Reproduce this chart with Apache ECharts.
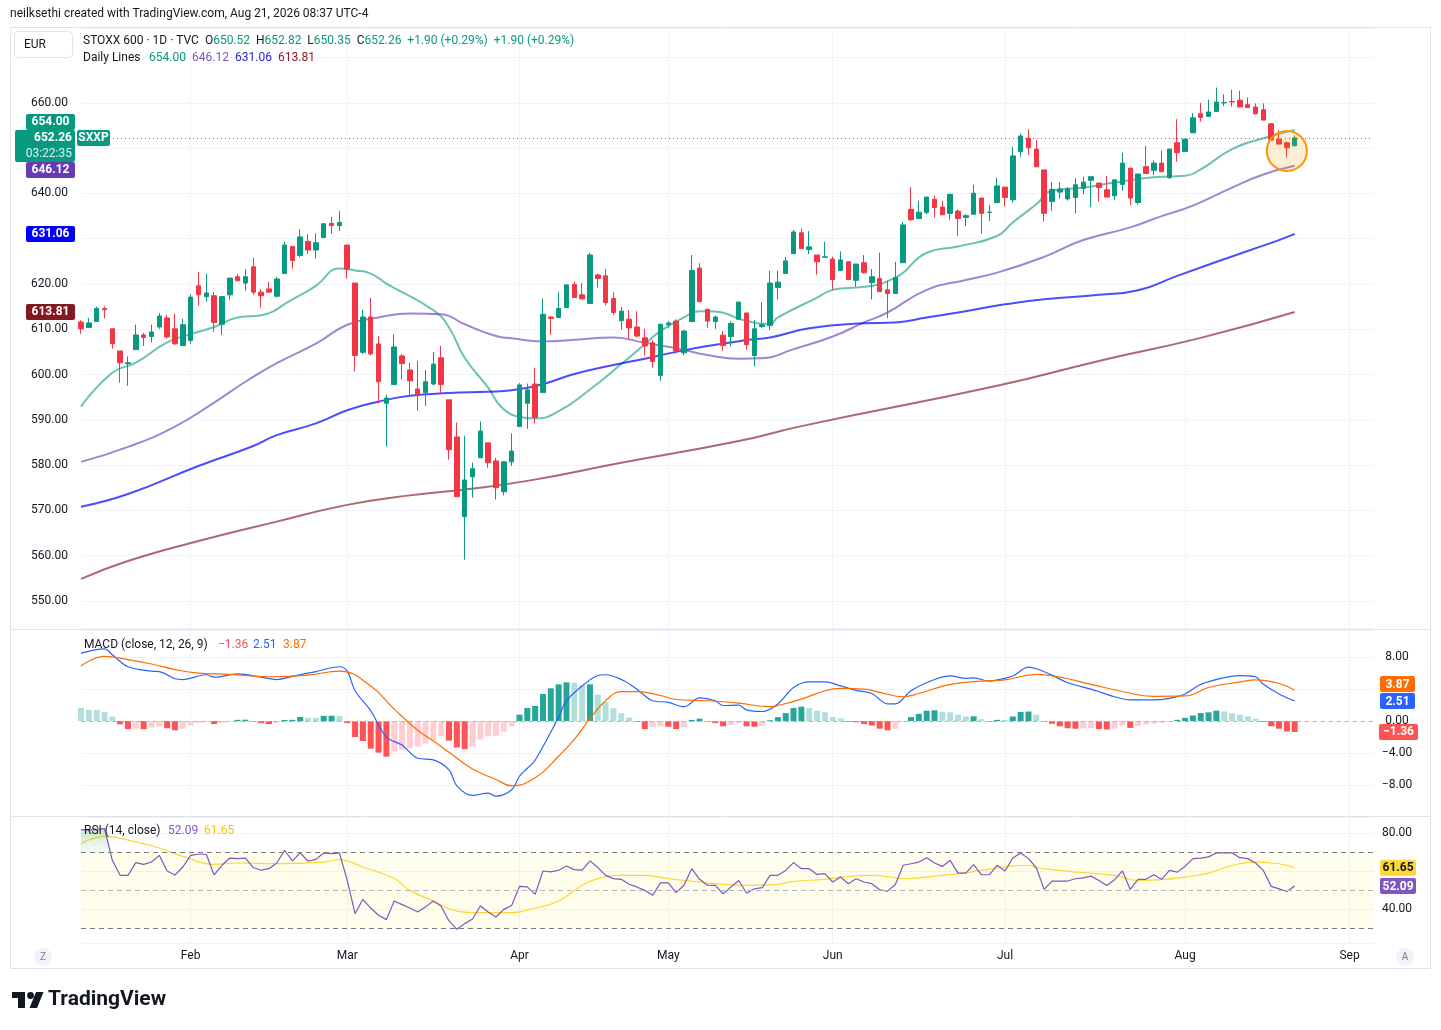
<!DOCTYPE html>
<html>
<head>
<meta charset="utf-8">
<title>STOXX 600 · 1D · TVC</title>
<script src="https://cdn.jsdelivr.net/npm/echarts@6.0.0/dist/echarts.min.js"></script>
<style>
  html, body { margin: 0; padding: 0; background: #fff; }
  #chart { width: 1441px; height: 1030px; }
</style>
</head>
<body>
<div id="chart"></div>
<script>
// ---- daily candles, Jan 13 -> Aug 21 2026 (bar index 0..155) ----
const open = [
  611.6, 610.4, 611.7, 614.6, 610.1, 605.2, 602.4, 605.5, 608.75, 608.4,
  610.5, 612.5, 610.1, 606.4, 607.5, 619.6, 617.2, 617.4, 611.1, 617.6,
  621.6, 620.2, 623.8, 618.2, 618.9, 617.3, 622.3, 628.3, 626.3, 629.4,
  627.5, 630.25, 633.4, 632.9, 628.6, 620.2, 604.9, 612.7, 606.75, 593.65,
  597.8, 604.1, 601.0, 596.8, 596.0, 597.9, 603.7, 594.4, 586.2, 568.6,
  577.4, 581.6, 584.9, 580.9, 574.1, 580.7, 588.5, 593.65, 597.9, 596.0,
  612.7, 612.6, 614.8, 619.9, 617.6, 615.7, 622.0, 621.8, 616.8, 611.9,
  612.2, 610.5, 608.1, 607.0, 599.8, 611.0, 611.8, 604.8, 611.7, 623.5,
  614.4, 611.7, 608.7, 608.4, 612.2, 613.6, 604.2, 610.6, 610.8, 619.2,
  622.3, 626.7, 631.3, 627.6, 626.4, 625.9, 625.5, 623.0, 624.9, 620.8,
  624.7, 620.3, 621.2, 618.7, 617.9, 624.7, 636.5, 634.45, 635.8, 638.7,
  637.0, 635.6, 636.1, 634.7, 635.4, 639.0, 635.8, 637.98, 641.4, 638.6,
  649.25, 652.2, 649.8, 645.2, 638.2, 640.3, 638.8, 639.1, 641.1, 642.9,
  642.3, 640.8, 639.5, 642.0, 645.6, 638.0, 645.9, 645.1, 646.7, 643.5,
  651.2, 649.25, 653.4, 657.6, 657.0, 658.1, 660.0, 660.3, 660.6, 659.6,
  659.1, 658.5, 655.4, 652.0, 651.2, 650.52
];
const high = [
  612.0, 612.5, 615.0, 615.0, 610.1, 605.2, 604.0, 611.0, 609.2, 611.0,
  613.6, 613.2, 613.4, 612.3, 617.7, 622.7, 622.3, 618.2, 617.2, 621.3,
  622.2, 623.3, 625.8, 618.9, 620.5, 621.6, 629.3, 628.3, 632.1, 631.0,
  631.2, 633.4, 634.8, 636.1, 628.6, 620.2, 614.3, 616.9, 608.5, 595.5,
  608.9, 604.55, 602.6, 603.0, 601.0, 605.0, 606.3, 594.4, 589.4, 586.4,
  580.5, 589.6, 584.9, 581.6, 580.9, 587.0, 598.1, 598.0, 601.5, 616.8,
  612.9, 618.2, 619.8, 620.5, 620.2, 626.9, 622.3, 623.3, 618.2, 614.9,
  614.2, 614.0, 610.1, 607.6, 611.1, 611.8, 612.2, 609.9, 626.4, 624.6,
  614.4, 613.0, 609.6, 611.8, 616.0, 613.6, 612.1, 616.0, 622.9, 622.9,
  626.0, 631.9, 632.3, 631.7, 626.4, 629.3, 626.0, 627.2, 624.9, 624.4,
  626.4, 623.3, 626.9, 620.7, 624.9, 633.7, 641.4, 638.35, 639.2, 639.5,
  638.35, 639.8, 636.5, 635.4, 641.9, 639.0, 637.5, 643.5, 641.4, 650.3,
  653.2, 654.2, 651.8, 645.2, 642.5, 642.5, 641.4, 643.4, 643.7, 643.7,
  642.3, 643.9, 643.0, 649.0, 645.6, 644.3, 650.5, 647.3, 649.5, 649.8,
  656.4, 652.0, 657.7, 660.0, 660.7, 663.4, 661.9, 662.9, 662.7, 661.2,
  659.9, 659.9, 655.4, 654.0, 651.5, 652.82
];
const low = [
  609.0, 610.4, 611.7, 612.4, 605.7, 598.2, 597.5, 605.5, 606.3, 607.1,
  610.1, 607.9, 606.5, 606.4, 606.8, 615.2, 616.1, 609.4, 608.75, 616.5,
  620.7, 618.5, 617.6, 614.8, 618.1, 617.0, 622.3, 623.4, 625.9, 626.6,
  625.6, 630.25, 631.1, 631.7, 621.2, 600.7, 604.5, 604.2, 593.65, 584.1,
  597.8, 598.9, 595.1, 592.0, 593.1, 597.6, 595.9, 581.2, 573.0, 559.1,
  572.8, 581.6, 579.4, 572.4, 573.3, 579.8, 588.5, 588.0, 589.2, 596.0,
  608.8, 612.6, 614.8, 617.0, 616.7, 615.7, 619.2, 615.3, 613.2, 609.9,
  607.9, 608.2, 604.2, 601.5, 598.6, 610.2, 604.6, 604.3, 611.7, 616.1,
  610.3, 610.1, 605.2, 606.2, 612.2, 605.5, 601.8, 610.3, 609.8, 616.6,
  622.3, 626.7, 627.8, 626.6, 622.1, 625.9, 618.8, 622.8, 621.0, 619.4,
  622.3, 616.6, 618.3, 612.4, 617.9, 624.7, 633.9, 634.45, 635.4, 634.7,
  635.2, 634.1, 630.6, 632.8, 635.4, 631.1, 633.9, 637.98, 637.1, 638.0,
  648.1, 648.5, 645.9, 633.8, 636.1, 638.9, 638.4, 635.6, 639.8, 637.0,
  638.2, 639.2, 638.6, 640.6, 637.4, 637.5, 644.4, 644.1, 644.8, 643.2,
  647.0, 649.25, 653.4, 655.9, 657.0, 658.1, 659.3, 659.2, 659.1, 659.0,
  657.5, 656.2, 651.8, 650.9, 647.9, 650.35
];
const close = [
  610.1, 611.4, 614.6, 614.3, 606.8, 602.6, 602.6, 608.75, 608.2, 609.4,
  612.9, 608.3, 606.8, 611.0, 617.1, 617.6, 618.0, 611.5, 617.2, 621.3,
  620.7, 621.6, 618.2, 617.4, 618.2, 621.1, 628.6, 625.2, 630.4, 627.5,
  629.1, 633.3, 632.9, 633.6, 623.3, 604.2, 612.7, 604.55, 598.4, 594.8,
  606.1, 602.4, 598.6, 595.6, 598.4, 602.3, 597.8, 583.4, 573.0, 576.7,
  579.2, 587.5, 580.5, 575.0, 580.7, 583.1, 597.7, 596.6, 590.5, 613.3,
  612.4, 614.6, 619.8, 617.0, 616.7, 626.4, 621.2, 615.9, 613.7, 614.0,
  610.3, 608.5, 606.3, 602.9, 611.1, 611.4, 605.2, 609.6, 623.0, 616.1,
  611.8, 612.7, 606.4, 611.3, 616.0, 606.6, 610.1, 611.0, 620.2, 620.4,
  625.1, 631.5, 627.8, 628.2, 624.9, 626.0, 621.0, 625.3, 621.0, 624.4,
  622.5, 621.6, 618.3, 617.9, 621.4, 633.05, 634.2, 635.85, 639.2, 636.9,
  635.3, 639.8, 634.45, 635.1, 640.05, 635.6, 635.9, 641.67, 639.1, 648.3,
  652.7, 650.1, 645.9, 635.6, 640.9, 641.0, 641.0, 641.9, 642.5, 643.7,
  641.3, 639.2, 643.0, 646.7, 639.0, 644.3, 644.4, 646.7, 644.8, 649.8,
  649.0, 652.0, 656.7, 656.8, 658.0, 660.2, 660.1, 660.2, 659.1, 659.0,
  657.6, 656.2, 651.8, 650.9, 650.1, 652.26
];

// ---- daily moving-average lines, read as [bar, value] ----
const ma20Pts = [[0,592.9],[4,600.4],[7,602.6],[11,607.1],[14,608.9],[17,610.5],[20,612.6],[23,613.1],[27,616.6],[30,619.6],[33,623.4],[35,623.0],[37,622.3],[39,620.1],[45,614.2],[47,610.4],[49,603.7],[52,597.1],[54,592.3],[57,590.4],[58,590.3],[61,591.9],[65,596.7],[69,602.3],[72,606.7],[74,609.6],[77,612.6],[79,614.0],[81,613.9],[85,611.8],[88,611.2],[89,612.6],[93,616.1],[97,619.0],[99,619.2],[104,621.4],[108,626.9],[112,628.3],[117,630.6],[119,633.6],[122,637.6],[124,640.6],[128,641.3],[132,642.4],[137,643.6],[141,643.9],[143,645.3],[147,649.8],[151,652.2],[155,654.00]];
const ma50Pts = [[0,580.7],[6,584.0],[12,588.5],[17,593.8],[21,598.4],[25,602.5],[30,606.8],[34,611.0],[38,612.6],[42,613.5],[46,613.3],[49,611.1],[53,608.5],[55,608.0],[59,607.3],[63,607.7],[68,608.2],[72,607.0],[76,605.8],[80,604.3],[84,603.5],[87,603.6],[91,605.6],[96,608.4],[100,611.5],[103,613.7],[108,618.7],[113,620.9],[117,622.5],[123,626.0],[128,629.7],[134,632.5],[138,635.0],[142,637.3],[147,641.3],[151,644.2],[155,646.12]];
const ma100Pts = [[0,570.8],[6,573.6],[15,579.8],[22,584.2],[25,586.6],[30,589.2],[34,592.1],[38,594.0],[42,595.3],[47,595.9],[52,596.2],[55,596.5],[59,597.9],[63,600.1],[68,602.1],[72,603.5],[76,605.0],[80,606.3],[85,607.6],[88,608.2],[93,610.2],[100,611.3],[104,611.5],[108,612.6],[112,613.7],[118,615.5],[123,616.6],[130,617.6],[135,618.6],[140,621.8],[149,627.3],[153,629.7],[155,631.06]];
const ma200Pts = [[0,554.85],[6,558.8],[15,563.2],[25,567.5],[34,571.2],[42,573.3],[49,574.6],[57,576.5],[69,580.5],[84,585.3],[92,588.6],[117,597.5],[130,603.0],[143,608.1],[155,613.81]];

// ---- MACD (12, 26, 9) ----
const macdHist = [
  1.65, 1.4, 1.38, 1.15, 0.58, -0.4, -1.0, -0.95, -1.0, -0.8,
  -0.65, -0.9, -1.15, -0.95, -0.55, -0.25, -0.12, -0.37, -0.25, -0.05,
  0.16, 0.18, -0.08, -0.25, -0.37, -0.25, 0.14, 0.16, 0.53, 0.41,
  0.40, 0.66, 0.68, 0.66, -0.25, -2.0, -2.5, -3.45, -3.95, -4.45,
  -3.8, -3.6, -3.4, -3.2, -2.8, -2.4, -1.85, -2.45, -3.3, -3.5,
  -3.2, -2.3, -1.9, -1.85, -1.3, -0.65, 0.8, 1.65, 1.9, 3.4,
  4.1, 4.6, 4.85, 4.8, 4.5, 4.6, 3.3, 2.4, 1.6, 1.0,
  0.45, -0.1, -1.0, -0.75, -0.65, -0.7, -1.0, -0.8, 0.15, 0.3,
  -0.1, -0.25, -0.65, -0.45, -0.25, -0.65, -0.7, -0.6, 0.1, 0.5,
  1.0, 1.65, 1.8, 1.65, 1.3, 1.1, 0.5, 0.35, -0.1, -0.15,
  -0.37, -0.55, -0.95, -1.15, -0.95, -0.12, 0.5, 0.9, 1.3, 1.35,
  1.15, 1.1, 0.8, 0.58, 0.6, 0.25, -0.08, 0.16, 0.14, 0.58,
  1.15, 1.2, 0.8, -0.1, -0.33, -0.65, -0.9, -0.95, -0.9, -0.88,
  -1.0, -1.05, -0.95, -0.55, -0.85, -0.6, -0.4, -0.33, -0.25, -0.1,
  0.16, 0.4, 0.7, 1.0, 1.1, 1.3, 1.2, 1.0, 0.8, 0.6,
  0.3, -0.1, -0.65, -0.95, -1.3, -1.36
];
const macdPts = [[0,8.5],[3,9.05],[4,8.3],[6,6.8],[9,6.25],[10,6.2],[12,5.3],[13,5.2],[16,5.8],[17,5.5],[20,5.9],[23,5.5],[25,5.2],[27,5.6],[30,6.2],[33,6.8],[34,6.25],[35,3.8],[37,1.3],[39,-2.0],[41,-3.0],[43,-4.65],[45,-4.85],[47,-6.1],[48,-8.1],[50,-9.3],[52,-9.0],[53,-9.4],[55,-8.6],[56,-6.9],[57,-5.9],[58,-4.9],[61,0.5],[62,2.55],[64,4.4],[66,5.7],[67,5.8],[69,5.2],[71,4.0],[73,2.55],[75,2.35],[77,1.8],[79,2.9],[81,2.55],[82,1.95],[84,2.0],[85,1.4],[87,1.2],[89,2.15],[91,4.2],[93,4.9],[95,4.9],[97,4.4],[99,3.85],[101,3.45],[103,2.15],[104,2.15],[106,3.8],[109,5.2],[111,5.65],[113,5.35],[114,5.4],[116,5.0],[117,5.15],[119,5.65],[121,6.75],[122,6.55],[124,5.75],[126,4.8],[129,4.0],[132,3.05],[134,2.65],[137,2.65],[139,2.85],[141,3.4],[143,4.6],[146,5.45],[148,5.7],[150,5.55],[151,4.6],[153,3.4],[155,2.51]];
const signalPts = [[0,6.9],[3,8.1],[6,7.7],[9,7.15],[12,6.45],[15,6.0],[19,5.85],[24,5.55],[29,5.75],[33,6.25],[37,4.4],[40,1.5],[43,-1.15],[45,-2.5],[47,-3.9],[50,-6.0],[53,-7.3],[55,-8.1],[58,-7.1],[61,-4.4],[63,-2.3],[65,0.3],[67,2.55],[69,3.7],[71,3.7],[74,3.2],[76,2.7],[80,2.55],[84,2.25],[88,1.8],[89,1.95],[92,2.75],[95,3.8],[97,4.1],[100,4.0],[102,3.6],[105,3.05],[107,3.45],[111,4.6],[115,5.0],[118,5.15],[122,5.85],[125,5.5],[129,4.6],[133,3.7],[137,3.1],[141,3.15],[144,4.2],[148,4.9],[150,5.15],[153,4.7],[155,3.87]];

// ---- RSI (14) and its moving average ----
const rsi = [
  81.8, 81.5, 82.0, 82.3, 65.6, 57.7, 57.7, 64.4, 63.5, 64.7,
  68.2, 60.0, 57.9, 62.1, 68.2, 68.8, 68.8, 57.9, 63.0, 66.8,
  66.5, 66.8, 61.8, 60.4, 61.2, 64.2, 70.9, 65.3, 69.5, 65.1,
  66.1, 69.5, 69.1, 69.5, 55.1, 37.5, 45.1, 40.5, 36.7, 34.4,
  44.2, 42.3, 40.5, 38.4, 41.1, 44.2, 41.4, 33.7, 29.3, 32.3,
  34.7, 41.6, 38.4, 35.8, 39.8, 41.8, 51.9, 51.6, 47.7, 60.0,
  59.5, 60.4, 62.6, 60.7, 60.4, 65.3, 61.8, 57.7, 56.0, 55.6,
  53.0, 51.6, 49.8, 47.2, 53.7, 53.7, 48.6, 52.5, 61.2, 55.6,
  52.5, 52.4, 48.0, 51.5, 55.0, 48.3, 50.6, 51.2, 57.7, 57.7,
  60.3, 64.4, 61.2, 61.2, 58.2, 58.6, 54.2, 56.8, 53.3, 55.9,
  54.2, 53.3, 50.1, 49.4, 52.9, 63.0, 63.8, 64.7, 67.0, 64.2,
  62.4, 65.6, 58.9, 58.9, 63.3, 58.0, 58.0, 63.0, 60.0, 66.8,
  69.5, 66.5, 61.7, 50.3, 54.7, 54.7, 54.7, 55.9, 56.4, 57.3,
  55.0, 52.4, 55.4, 60.0, 50.3, 55.6, 55.6, 58.0, 55.6, 60.3,
  59.4, 62.4, 66.5, 66.8, 67.4, 69.5, 69.5, 69.5, 67.0, 66.5,
  64.2, 60.3, 51.9, 50.6, 49.2, 52.09
];
const rsiMaPts = [[0,74.4],[3,78.2],[7,75.3],[10,72.1],[13,67.7],[17,63.5],[20,64.2],[25,63.9],[31,64.7],[33,66.0],[36,62.1],[40,56.0],[42,49.8],[45,44.2],[48,38.9],[51,38.1],[55,38.1],[58,40.5],[61,44.2],[64,52.5],[66,56.0],[69,57.7],[72,57.7],[75,56.0],[78,54.6],[82,52.9],[86,52.4],[89,52.9],[91,54.5],[95,55.6],[97,56.8],[101,57.7],[103,57.1],[105,55.9],[107,56.4],[112,58.6],[115,60.3],[118,62.1],[121,63.0],[122,61.7],[125,60.3],[128,59.1],[132,57.7],[135,55.0],[138,55.4],[141,56.8],[144,58.9],[146,61.7],[148,63.8],[150,64.7],[153,63.8],[155,61.65]];

// ---- time axis: bar slots (incl. empty future space) and month ticks ----
const slotCount = 166;
const monthTicks = [14, 34, 56, 75, 96, 118, 141, 162];
const monthNames = ['Feb', 'Mar', 'Apr', 'May', 'Jun', 'Jul', 'Aug', 'Sep'];

const FONT = 'Roboto, "Liberation Sans", sans-serif';
const TXT = '#131722';
const GRID_C = '#f0f3fa';
const UP = '#089981', DOWN = '#F23645';

const cats = Array.from({ length: slotCount }, (_, i) => String(i));
const isMonth = (i) => monthTicks.indexOf(i) >= 0;
const fmt = (v) => (v < 0 ? '\u2212' + Math.abs(v).toFixed(2) : v.toFixed(2));

function xAxis(gridIndex, labels) {
  return {
    type: 'category', gridIndex, data: cats, boundaryGap: false,
    axisLine: { show: false }, axisTick: { show: false },
    splitLine: { show: true, interval: (i) => isMonth(i), lineStyle: { color: GRID_C } },
    axisLabel: labels ? {
      show: true, interval: (i) => isMonth(i), margin: 7,
      formatter: (v) => monthNames[monthTicks.indexOf(Number(v))],
      color: TXT, fontSize: 12, fontFamily: FONT
    } : { show: false }
  };
}

function maLine(name, pts, color) {
  return {
    name, type: 'line', xAxisIndex: 0, yAxisIndex: 0, data: pts,
    showSymbol: false, smooth: 0.5, silent: true,
    lineStyle: { color, width: 2 }, z: 3
  };
}

const candles = open.map((o, i) => [o, close[i], low[i], high[i]]);
const histData = macdHist.map((v, i) => {
  const prev = i > 0 ? macdHist[i - 1] : Infinity;
  let c;
  if (v >= 0) c = v > prev ? '#26A69A' : '#B2DFDB';
  else c = v < prev ? '#FF5252' : '#FFCDD2';
  return { value: v, itemStyle: { color: c } };
});
const overbought = rsi.slice(0, 5).map((v, i) => [i, Math.max(v, 70)]);

const option = {
  animation: false,
  backgroundColor: '#ffffff',
  textStyle: { fontFamily: FONT },
  grid: [
    { left: 81, width: 1292, top: 28, height: 600 },
    { left: 81, width: 1292, top: 630, height: 187 },
    { left: 81, width: 1292, top: 817, height: 126 }
  ],
  xAxis: [xAxis(0, false), xAxis(1, false), xAxis(2, true)],
  yAxis: [
    {
      type: 'value', gridIndex: 0, position: 'left', min: 544.0, max: 676.55, splitNumber: 13,
      axisLine: { show: false }, axisTick: { show: false },
      axisLabel: { formatter: (v) => (v > 665 ? '' : v.toFixed(2)), color: TXT, fontSize: 12, fontFamily: FONT, margin: 13, showMinLabel: false, showMaxLabel: false },
      splitLine: { lineStyle: { color: GRID_C } }
    },
    {
      type: 'value', gridIndex: 1, position: 'right', min: -12, max: 11.4, interval: 4,
      axisLine: { show: false }, axisTick: { show: false },
      axisLabel: { formatter: fmt, color: TXT, fontSize: 12, fontFamily: FONT, margin: 24, align: 'center', showMinLabel: false, showMaxLabel: false },
      splitLine: { lineStyle: { color: GRID_C } }
    },
    {
      type: 'value', gridIndex: 2, position: 'right', min: 22.1, max: 88.4, splitNumber: 3,
      axisLine: { show: false }, axisTick: { show: false },
      axisLabel: { formatter: fmt, color: TXT, fontSize: 12, fontFamily: FONT, margin: 24, align: 'center', showMinLabel: false, showMaxLabel: false },
      splitLine: { lineStyle: { color: GRID_C } }
    }
  ],
  series: [
    {
      name: 'STOXX 600', type: 'candlestick', xAxisIndex: 0, yAxisIndex: 0, data: candles,
      barWidth: 5, clip: false, z: 4,
      itemStyle: { color: UP, color0: DOWN, borderColor: UP, borderColor0: DOWN, borderWidth: 1 },
      markLine: {
        silent: true, symbol: ['none', 'none'], label: { show: false },
        lineStyle: { color: UP, type: [1, 3], width: 1 },
        data: [{ yAxis: close[close.length - 1] }]
      }
    },
    maLine('MA 20', ma20Pts, 'rgba(8,153,129,0.6)'),
    maLine('MA 50', ma50Pts, 'rgba(103,58,183,0.62)'),
    maLine('MA 100', ma100Pts, 'rgba(0,0,255,0.7)'),
    maLine('MA 200', ma200Pts, 'rgba(128,25,34,0.65)'),
    {
      name: 'Histogram', type: 'bar', xAxisIndex: 1, yAxisIndex: 1, data: histData, barWidth: 6,
      markLine: {
        silent: true, symbol: ['none', 'none'], label: { show: false },
        lineStyle: { color: '#b2b5be', type: [4, 4], width: 1 },
        data: [{ yAxis: 0 }]
      }
    },
    {
      name: 'MACD', type: 'line', xAxisIndex: 1, yAxisIndex: 1, data: macdPts,
      showSymbol: false, smooth: 0.35, lineStyle: { color: '#2962FF', width: 1.2 }, z: 3
    },
    {
      name: 'Signal', type: 'line', xAxisIndex: 1, yAxisIndex: 1, data: signalPts,
      showSymbol: false, smooth: 0.45, lineStyle: { color: '#FF6D00', width: 1.2 }, z: 3
    },
    {
      name: 'Overbought', type: 'line', xAxisIndex: 2, yAxisIndex: 2, data: overbought,
      showSymbol: false, silent: true, lineStyle: { opacity: 0 },
      areaStyle: {
        origin: 70,
        color: new echarts.graphic.LinearGradient(0, 0, 0, 1, [
          { offset: 0, color: 'rgba(76,175,80,0.45)' },
          { offset: 1, color: 'rgba(76,175,80,0.05)' }
        ])
      }
    },
    {
      name: 'RSI', type: 'line', xAxisIndex: 2, yAxisIndex: 2, data: rsi,
      showSymbol: false, lineStyle: { color: '#7E57C2', width: 1.2 }, z: 3,
      markArea: {
        silent: true, itemStyle: { color: 'rgba(255,235,59,0.10)' },
        data: [[{ yAxis: 30 }, { yAxis: 70 }]]
      },
      markLine: {
        silent: true, symbol: ['none', 'none'], label: { show: false },
        lineStyle: { type: [5, 4], width: 1 },
        data: [
          { yAxis: 70, lineStyle: { color: '#787B86' } },
          { yAxis: 50, lineStyle: { color: '#b2b5be' } },
          { yAxis: 30, lineStyle: { color: '#787B86' } }
        ]
      }
    },
    {
      name: 'RSI MA', type: 'line', xAxisIndex: 2, yAxisIndex: 2, data: rsiMaPts,
      showSymbol: false, smooth: 0.45, lineStyle: { color: '#FDD835', width: 1.2 }, z: 2
    }
  ]
};

const chart = echarts.init(document.getElementById('chart'));
chart.setOption(option);

// ---- overlay: frame, legends, price badges, annotation ----
const ZB = 100;
function text(x, y, str, fill, size, weight, align) {
  return {
    type: 'text', x, y, z: ZB, silent: true,
    style: { text: str, fill, font: (weight || 'normal') + ' ' + (size || 12) + 'px ' + FONT, align: align || 'left', verticalAlign: 'middle' }
  };
}
function line(x1, y1, x2, y2, stroke) {
  return { type: 'line', z: ZB, silent: true, shape: { x1, y1, x2, y2 }, style: { stroke, lineWidth: 1 } };
}
function badge(x, top, w, label, bg, fg) {
  return [
    { type: 'rect', z: ZB + 1, silent: true, shape: { x, y: top, width: w, height: 16, r: 2 }, style: { fill: bg } },
    { type: 'text', z: ZB + 2, silent: true, x: x + w / 2, y: top + 8.5, style: { text: label, fill: fg, font: 'bold 12px ' + FONT, align: 'center', verticalAlign: 'middle' } }
  ];
}
const last = (pts) => pts[pts.length - 1][1];
const py = (axis, v) => chart.convertToPixel({ yAxisIndex: axis }, v);

const lastClose = close[close.length - 1];
const lastHist = macdHist[macdHist.length - 1];
const lastRsi = rsi[rsi.length - 1];

const g = [];
// frame and pane separators
g.push({ type: 'rect', z: ZB, silent: true, shape: { x: 10.5, y: 27.5, width: 1420, height: 941 }, style: { fill: 'none', stroke: '#e0e3eb' } });
g.push(line(10, 629.5, 1431, 629.5, '#e0e3eb'));
g.push(line(10, 816.5, 1431, 816.5, '#e0e3eb'));

// header
g.push(text(10, 14, 'neilksethi created with TradingView.com, Aug 21, 2026 08:37 UTC-4', TXT, 12));
g.push({ type: 'rect', z: ZB, silent: true, shape: { x: 14.5, y: 31.5, width: 58, height: 26, r: 4 }, style: { fill: '#fff', stroke: '#e0e3eb' } });
g.push(text(24, 45, 'EUR', TXT, 12));

// legend row 1 (one rich string so the pieces never overlap)
const quote = [['O', '650.52'], ['H', '652.82'], ['L', '650.35'], ['C', lastClose.toFixed(2)]];
const row1 = 'STOXX 600 \u00b7 1D \u00b7 TVC  ' +
  quote.map(([k, v]) => '{k|' + k + '}{v|' + v + '}').join('  ') +
  '  {v|+1.90 (+0.29%)}  {v|+1.90 (+0.29%)}';
g.push({
  type: 'text', x: 83, y: 41, z: ZB, silent: true,
  style: {
    text: row1, fill: TXT, font: '12px ' + FONT, verticalAlign: 'middle',
    rich: { k: { fill: TXT, font: '12px ' + FONT }, v: { fill: UP, font: '12px ' + FONT } }
  }
});

// legend row 2
g.push(text(83, 58, 'Daily Lines', TXT, 12));
g.push(text(149, 58, last(ma20Pts).toFixed(2), UP, 12));
g.push(text(192, 58, last(ma50Pts).toFixed(2), '#7E57C2', 12));
g.push(text(235, 58, last(ma100Pts).toFixed(2), '#2525d8', 12));
g.push(text(278, 58, last(ma200Pts).toFixed(2), '#8E1B24', 12));

// MACD legend
g.push(text(84, 645, 'MACD (close, 12, 26, 9)', TXT, 12));
g.push(text(218, 645, fmt(lastHist), '#FF5252', 12));
g.push(text(253, 645, last(macdPts).toFixed(2), '#2962FF', 12));
g.push(text(283, 645, last(signalPts).toFixed(2), '#FF6D00', 12));

// RSI legend
g.push(text(84, 831, 'RSI (14, close)', TXT, 12));
g.push(text(168, 831, lastRsi.toFixed(2), '#7E57C2', 12));
g.push(text(204, 831, last(rsiMaPts).toFixed(2), '#F5C211', 12));

// price badges on the left scale
const pClose = py(0, lastClose);
const blockTop = pClose - 8;
g.push({ type: 'rect', z: ZB + 1, silent: true, shape: { x: 15, y: blockTop, width: 60, height: 32, r: 2 }, style: { fill: UP } });
g.push({ type: 'text', z: ZB + 2, silent: true, x: 72, y: blockTop + 8.5, style: { text: lastClose.toFixed(2), fill: '#fff', font: 'bold 12px ' + FONT, align: 'right', verticalAlign: 'middle' } });
g.push({ type: 'text', z: ZB + 2, silent: true, x: 72, y: blockTop + 24, style: { text: '03:22:35', fill: 'rgba(255,255,255,0.85)', font: '12px ' + FONT, align: 'right', verticalAlign: 'middle' } });
g.push(...badge(77, blockTop, 33, 'SXXP', UP, '#fff'));
g.push(...badge(26, Math.min(py(0, last(ma20Pts)) - 8, blockTop - 16), 49, last(ma20Pts).toFixed(2), UP, '#fff'));
g.push(...badge(26, Math.max(py(0, last(ma50Pts)) - 8, blockTop + 32), 49, last(ma50Pts).toFixed(2), '#673AB7', '#fff'));
g.push(...badge(26, py(0, last(ma100Pts)) - 8, 49, last(ma100Pts).toFixed(2), '#0000FF', '#fff'));
g.push(...badge(26, py(0, last(ma200Pts)) - 8, 49, last(ma200Pts).toFixed(2), '#801922', '#fff'));

// MACD badges on the right scale
const macdTop = py(1, last(macdPts)) - 8;
g.push(...badge(1380, Math.min(py(1, last(signalPts)) - 8, macdTop - 17), 35, last(signalPts).toFixed(2), '#FF6D00', '#fff'));
g.push(...badge(1380, macdTop, 35, last(macdPts).toFixed(2), '#2962FF', '#fff'));
g.push(...badge(1379, py(1, lastHist) - 8, 39, fmt(lastHist), '#FF5252', '#fff'));

// RSI badges
g.push(...badge(1380, py(2, last(rsiMaPts)) - 8, 36, last(rsiMaPts).toFixed(2), '#FDD835', TXT));
g.push(...badge(1380, py(2, lastRsi) - 8, 36, lastRsi.toFixed(2), '#7E57C2', '#fff'));

// circle annotation around the last candles
const note = chart.convertToPixel({ xAxisIndex: 0, yAxisIndex: 0 }, ['154', 649.4]);
g.push({
  type: 'circle', z: 30, silent: true, shape: { cx: note[0], cy: note[1], r: 20 },
  style: { fill: 'rgba(255,152,0,0.16)', stroke: '#FF9800', lineWidth: 2 }
});

// scale buttons and footer logo
g.push({ type: 'circle', z: ZB, silent: true, shape: { cx: 43, cy: 957, r: 9 }, style: { fill: '#f0f3fa' } });
g.push(text(43, 957, 'Z', '#787b86', 10, 'normal', 'center'));
g.push({ type: 'circle', z: ZB, silent: true, shape: { cx: 1405, cy: 957, r: 9 }, style: { fill: '#f0f3fa' } });
g.push(text(1405, 957, 'A', '#787b86', 10, 'normal', 'center'));

g.push({ type: 'rect', z: ZB, silent: true, shape: { x: 12, y: 992, width: 13, height: 6 }, style: { fill: TXT } });
g.push({ type: 'rect', z: ZB, silent: true, shape: { x: 18, y: 992, width: 7, height: 16 }, style: { fill: TXT } });
g.push({ type: 'circle', z: ZB, silent: true, shape: { cx: 30.5, cy: 995.5, r: 3.4 }, style: { fill: TXT } });
g.push({ type: 'polygon', z: ZB, silent: true, shape: { points: [[36, 992], [43.5, 992], [37, 1008], [29.5, 1008]] }, style: { fill: TXT } });
g.push(text(48, 1000, 'TradingView', TXT, 21, 'bold'));

chart.setOption({ graphic: g });
</script>
</body>
</html>
